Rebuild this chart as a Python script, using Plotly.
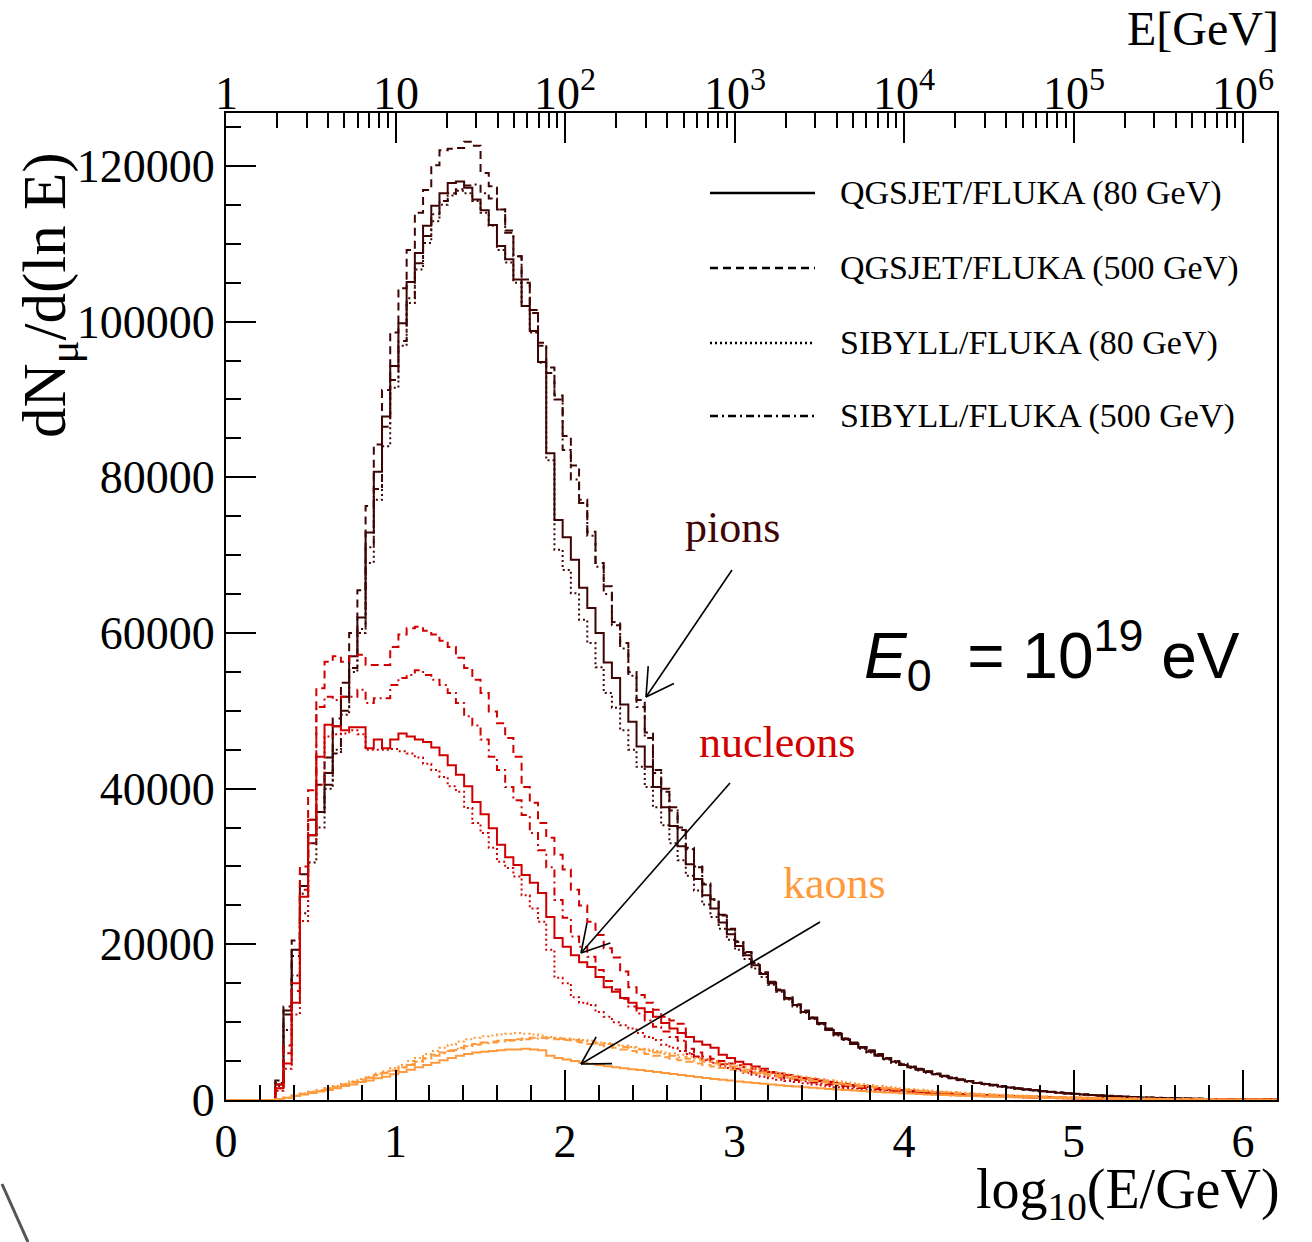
import math
import plotly.graph_objects as go

# ---------------- data (values in units of 1000 muons) ----------------
# histogram: 128 bins spanning log10(E/GeV) = 0 .. 6.2 ; arrays start at bin index FIRST_BIN
X_MAX = 6.2
Y_MAX = 126800
N_BINS = 128
FIRST_BIN = 6

pion_qgs80 = [
    2.0, 11.5, 19.3, 27.5, 34.0, 37.0, 42.0, 48.0, 51.8, 57.0,
    62.0, 72.9, 80.7, 87.8, 94.3, 99.8, 105.1, 108.8, 112.3, 114.9,
    116.5, 117.8, 118.0, 117.2, 115.7, 114.3, 112.4, 109.7, 108.0, 105.4,
    102.0, 98.8, 94.8, 83.1, 74.5, 72.3, 69.4, 65.8, 63.2, 60.0,
    56.2, 54.2, 50.8, 48.6, 45.4, 42.8, 40.2, 37.6, 35.2, 32.6,
    30.3, 28.4, 26.3, 24.6, 22.8, 21.3, 19.8, 18.6, 17.3, 16.2,
    15.0, 14.1, 13.0, 12.2, 11.3, 10.5, 9.8, 9.0, 8.4, 7.8,
    7.2, 6.7, 6.2, 5.7, 5.3, 4.9, 4.5, 4.2, 3.9, 3.6,
    3.3, 3.05, 2.8, 2.6, 2.4, 2.2, 2.05, 1.9, 1.75, 1.6,
    1.48, 1.35, 1.24, 1.13, 1.03, 0.94, 0.85, 0.77, 0.70, 0.63,
    0.57, 0.51, 0.46, 0.41, 0.37, 0.33, 0.30, 0.27, 0.24, 0.21,
    0.19, 0.17, 0.15, 0.13, 0.12, 0.10, 0.09, 0.08, 0.07, 0.06,
    0.05, 0.05]
pion_qgs500 = [
    2.5, 12.0, 20.5, 29.0, 36.0, 40.5, 44.0, 49.0, 53.6, 60.0,
    65.5, 76.3, 84.2, 91.2, 98.6, 104.3, 109.2, 114.0, 116.9, 120.1,
    122.0, 122.2, 122.3, 123.1, 122.6, 119.1, 117.4, 114.4, 111.7, 108.4,
    105.4, 101.5, 97.3, 94.1, 90.5, 85.3, 81.5, 77.1, 73.0, 69.0,
    66.0, 61.4, 58.7, 55.0, 51.4, 47.2, 42.4, 40.0, 37.6, 35.0,
    32.4, 30.0, 27.8, 25.8, 23.8, 22.0, 20.4, 19.0, 17.6, 16.4,
    15.2, 14.2, 13.2, 12.3, 11.5, 10.6, 9.9, 9.2, 8.6, 7.9,
    7.4, 6.8, 6.4, 5.9, 5.4, 5.0, 4.7, 4.3, 4.0, 3.7,
    3.4, 3.1, 2.9, 2.65, 2.45, 2.25, 2.1, 1.95, 1.8, 1.65,
    1.5, 1.38, 1.27, 1.16, 1.06, 0.97, 0.88, 0.80, 0.72, 0.65,
    0.59, 0.53, 0.48, 0.43, 0.39, 0.35, 0.31, 0.28, 0.25, 0.22,
    0.20, 0.18, 0.16, 0.14, 0.12, 0.11, 0.10, 0.09, 0.08, 0.07,
    0.06, 0.05]
pion_sib80 = [
    1.5, 9.0, 16.0, 24.0, 30.5, 35.0, 40.0, 45.0, 49.5, 55.0,
    60.0, 69.0, 77.1, 84.0, 91.5, 96.9, 102.4, 106.7, 110.1, 112.9,
    115.0, 116.2, 116.8, 116.5, 115.5, 114.0, 112.3, 109.2, 107.6, 105.0,
    102.0, 98.6, 94.7, 82.2, 70.7, 68.1, 65.1, 61.7, 58.7, 55.6,
    52.3, 50.4, 47.5, 45.0, 42.8, 40.2, 37.6, 35.3, 33.0, 30.8,
    28.8, 26.9, 25.1, 23.5, 22.0, 20.6, 19.3, 18.1, 16.9, 15.8,
    14.8, 13.9, 12.9, 12.0, 11.2, 10.4, 9.7, 9.0, 8.3, 7.7,
    7.2, 6.6, 6.1, 5.7, 5.2, 4.8, 4.5, 4.1, 3.8, 3.5,
    3.3, 3.0, 2.8, 2.55, 2.35, 2.2, 2.0, 1.85, 1.7, 1.58,
    1.45, 1.33, 1.22, 1.11, 1.02, 0.93, 0.84, 0.76, 0.69, 0.62,
    0.56, 0.50, 0.45, 0.41, 0.37, 0.33, 0.29, 0.26, 0.23, 0.21,
    0.19, 0.17, 0.15, 0.13, 0.12, 0.10, 0.09, 0.08, 0.07, 0.06,
    0.05, 0.05]
pion_sib500 = [
    2.2, 11.0, 18.5, 26.5, 33.0, 37.0, 40.5, 44.5, 50.0, 55.5,
    60.5, 71.0, 78.5, 86.5, 92.5, 97.5, 103.0, 107.5, 111.0, 113.8,
    115.5, 116.5, 117.0, 117.5, 117.6, 116.5, 115.8, 114.4, 111.4, 108.4,
    105.0, 101.1, 96.9, 93.4, 90.0, 83.5, 79.7, 76.7, 72.5, 68.5,
    65.0, 61.0, 58.0, 54.5, 50.5, 46.5, 42.0, 39.6, 37.2, 34.7,
    32.2, 29.9, 27.7, 25.7, 23.7, 21.9, 20.3, 18.9, 17.5, 16.3,
    15.1, 14.1, 13.1, 12.2, 11.4, 10.6, 9.8, 9.1, 8.5, 7.9,
    7.3, 6.8, 6.3, 5.8, 5.4, 5.0, 4.6, 4.3, 3.95, 3.65,
    3.35, 3.1, 2.85, 2.6, 2.4, 2.2, 2.05, 1.9, 1.75, 1.62,
    1.49, 1.36, 1.25, 1.14, 1.04, 0.95, 0.86, 0.78, 0.71, 0.64,
    0.58, 0.52, 0.47, 0.42, 0.38, 0.34, 0.30, 0.27, 0.24, 0.22,
    0.19, 0.17, 0.15, 0.14, 0.12, 0.11, 0.10, 0.09, 0.08, 0.07,
    0.06, 0.05]

nucl_qgs80 = [
    1.5, 4.7, 12.5, 26.1, 34.0, 44.1, 48.2, 48.0, 47.5, 47.9,
    47.9, 45.2, 46.3, 45.2, 46.3, 47.1, 46.7, 46.3, 46.0, 45.3,
    44.3, 43.0, 41.8, 40.3, 38.3, 36.7, 34.9, 32.8, 31.2, 30.2,
    28.9, 27.9, 26.6, 23.5, 20.8, 19.7, 18.6, 17.7, 17.1, 15.8,
    14.5, 13.9, 13.1, 12.5, 11.8, 11.3, 10.7, 9.9, 9.2, 8.6,
    8.1, 7.5, 7.1, 6.7, 5.8, 5.4, 4.9, 4.6, 4.3, 4.0,
    3.6, 3.4, 3.2, 3.0, 2.82, 2.65, 2.5, 2.35, 2.2, 2.05,
    1.9, 1.78, 1.66, 1.55, 1.45, 1.35, 1.25, 1.15, 1.06, 0.98,
    0.90, 0.83, 0.76, 0.70, 0.64, 0.59, 0.54, 0.50, 0.46, 0.42,
    0.39, 0.36, 0.33, 0.30, 0.28, 0.26, 0.24, 0.22, 0.20, 0.19,
    0.17, 0.16, 0.15, 0.14, 0.13, 0.12, 0.11, 0.10, 0.095, 0.09,
    0.085, 0.08, 0.075, 0.07, 0.065, 0.06, 0.055, 0.05, 0.05, 0.045,
    0.04, 0.04]
nucl_qgs500 = [
    2.0, 7.0, 15.0, 30.0, 39.8, 52.9, 56.3, 57.0, 56.3, 57.0,
    57.2, 55.9, 55.9, 55.9, 58.2, 59.8, 60.6, 60.8, 60.3, 59.8,
    59.0, 58.2, 56.8, 55.5, 54.0, 52.3, 49.9, 48.4, 46.5, 44.1,
    40.2, 38.2, 35.6, 33.7, 31.5, 29.6, 27.0, 25.0, 22.9, 21.2,
    19.5, 18.3, 16.5, 14.5, 13.5, 12.5, 11.6, 10.7, 10.2, 9.8,
    6.6, 6.1, 5.6, 5.3, 5.0, 4.7, 4.45, 4.2, 4.0, 3.75,
    3.5, 3.3, 3.1, 2.9, 2.72, 2.55, 2.4, 2.25, 2.1, 1.98,
    1.86, 1.75, 1.64, 1.54, 1.44, 1.35, 1.26, 1.18, 1.1, 1.03,
    0.96, 0.9, 0.84, 0.78, 0.73, 0.68, 0.63, 0.59, 0.55, 0.51,
    0.47, 0.44, 0.41, 0.38, 0.35, 0.32, 0.3, 0.28, 0.26, 0.24,
    0.22, 0.2, 0.19, 0.17, 0.16, 0.15, 0.14, 0.13, 0.12, 0.11,
    0.1, 0.095, 0.09, 0.085, 0.08, 0.075, 0.07, 0.065, 0.06, 0.055,
    0.05, 0.045]
nucl_sib80 = [
    1.2, 4.0, 11.0, 23.0, 33.0, 40.5, 46.7, 47.0, 47.1, 47.5,
    47.0, 45.0, 45.0, 45.0, 45.1, 44.8, 44.5, 44.0, 43.2, 42.4,
    41.5, 40.3, 39.6, 37.5, 35.6, 34.3, 32.4, 30.6, 29.8, 28.7,
    26.3, 24.6, 22.9, 19.3, 15.7, 15.0, 13.2, 12.5, 12.2, 11.3,
    10.7, 10.0, 9.6, 9.2, 8.6, 8.1, 7.7, 7.1, 6.7, 6.3,
    5.9, 5.5, 5.1, 4.8, 4.4, 4.1, 3.8, 3.5, 3.25, 3.0,
    2.8, 2.6, 2.45, 2.3, 2.15, 2.0, 1.88, 1.76, 1.65, 1.55,
    1.45, 1.36, 1.27, 1.19, 1.11, 1.04, 0.97, 0.90, 0.84, 0.78,
    0.72, 0.67, 0.62, 0.58, 0.54, 0.50, 0.46, 0.43, 0.40, 0.37,
    0.34, 0.32, 0.30, 0.28, 0.26, 0.24, 0.22, 0.20, 0.19, 0.18,
    0.17, 0.16, 0.15, 0.14, 0.13, 0.12, 0.11, 0.10, 0.095, 0.09,
    0.085, 0.08, 0.075, 0.07, 0.065, 0.06, 0.055, 0.05, 0.05, 0.045,
    0.04, 0.04]
nucl_sib500 = [
    1.8, 6.0, 14.0, 27.0, 36.0, 50.5, 51.8, 51.4, 51.8, 51.8,
    52.7, 51.0, 51.6, 51.6, 53.3, 54.2, 54.6, 55.2, 54.6, 54.0,
    53.3, 52.3, 51.0, 49.3, 48.1, 46.3, 44.1, 42.4, 40.2, 38.5,
    36.6, 34.3, 32.1, 29.9, 25.7, 23.4, 21.0, 19.7, 18.4, 16.7,
    15.3, 14.2, 13.0, 12.0, 11.1, 10.2, 9.4, 8.8, 8.1, 7.6,
    6.0, 5.6, 5.2, 4.9, 4.6, 4.3, 4.0, 3.75, 3.5, 3.3,
    3.1, 2.9, 2.72, 2.56, 2.4, 2.26, 2.12, 2.0, 1.88, 1.76,
    1.65, 1.55, 1.46, 1.37, 1.28, 1.2, 1.12, 1.05, 0.98, 0.91,
    0.85, 0.79, 0.73, 0.68, 0.63, 0.58, 0.54, 0.5, 0.46, 0.43,
    0.4, 0.37, 0.34, 0.31, 0.29, 0.27, 0.25, 0.23, 0.21, 0.19,
    0.18, 0.17, 0.16, 0.15, 0.14, 0.13, 0.12, 0.11, 0.10, 0.095,
    0.09, 0.085, 0.08, 0.075, 0.07, 0.065, 0.06, 0.055, 0.05, 0.05,
    0.045, 0.04]

kaon_qgs80 = [
    0.1, 0.3, 0.5, 0.7, 0.9, 1.1, 1.3, 1.5, 1.8, 2.0,
    2.3, 2.5, 2.8, 3.0, 3.3, 3.6, 3.9, 4.2, 4.5, 4.8,
    5.1, 5.4, 5.7, 5.9, 6.1, 6.2, 6.3, 6.4, 6.5, 6.5,
    6.6, 6.5, 6.4, 5.7, 5.4, 5.2, 5.0, 4.8, 4.65, 4.5,
    4.35, 4.2, 4.08, 3.96, 3.84, 3.72, 3.6, 3.47, 3.34, 3.21,
    3.08, 2.95, 2.83, 2.71, 2.6, 2.49, 2.38, 2.28, 2.18, 2.08,
    1.99, 1.9, 1.81, 1.73, 1.65, 1.57, 1.5, 1.42, 1.35, 1.28,
    1.21, 1.15, 1.09, 1.03, 0.97, 0.92, 0.87, 0.82, 0.77, 0.72,
    0.68, 0.64, 0.6, 0.56, 0.52, 0.49, 0.46, 0.43, 0.4, 0.37,
    0.34, 0.31, 0.29, 0.27, 0.25, 0.23, 0.21, 0.2, 0.18, 0.17,
    0.15, 0.14, 0.13, 0.12, 0.11, 0.1, 0.09, 0.085, 0.08, 0.075,
    0.07, 0.065, 0.06, 0.055, 0.05, 0.045, 0.04, 0.04, 0.035, 0.03,
    0.03, 0.025]
kaon_qgs500 = [
    0.1, 0.3, 0.55, 0.8, 1.0, 1.2, 1.45, 1.7, 2.0, 2.3,
    2.6, 2.9, 3.2, 3.5, 3.8, 4.2, 4.6, 5.0, 5.4, 5.8,
    6.1, 6.4, 6.7, 7.0, 7.2, 7.4, 7.5, 7.6, 7.7, 7.8,
    7.9, 8.0, 8.0, 7.9, 7.8, 7.7, 7.5, 7.4, 7.2, 7.1,
    6.9, 6.7, 6.5, 6.3, 6.1, 5.9, 5.7, 5.5, 5.3, 5.1,
    4.9, 4.7, 4.5, 4.3, 4.1, 3.9, 3.75, 3.6, 3.45, 3.3,
    3.15, 3.0, 2.85, 2.7, 2.56, 2.43, 2.3, 2.18, 2.06, 1.95,
    1.84, 1.74, 1.64, 1.55, 1.46, 1.38, 1.3, 1.22, 1.15, 1.08,
    1.01, 0.95, 0.89, 0.83, 0.78, 0.73, 0.68, 0.63, 0.59, 0.55,
    0.51, 0.48, 0.44, 0.41, 0.38, 0.35, 0.33, 0.3, 0.28, 0.26,
    0.24, 0.22, 0.2, 0.19, 0.17, 0.16, 0.15, 0.14, 0.13, 0.12,
    0.11, 0.1, 0.09, 0.085, 0.08, 0.07, 0.065, 0.06, 0.055, 0.05,
    0.045, 0.04]
kaon_sib80 = [
    0.1, 0.3, 0.6, 0.85, 1.1, 1.3, 1.55, 1.8, 2.1, 2.4,
    2.7, 3.0, 3.4, 3.7, 4.1, 4.5, 5.0, 5.4, 5.9, 6.3,
    6.7, 7.1, 7.5, 7.8, 8.0, 8.2, 8.3, 8.4, 8.5, 8.6,
    8.5, 8.4, 8.3, 8.1, 8.0, 7.9, 7.8, 7.7, 7.6, 7.4,
    7.3, 7.1, 7.0, 6.8, 6.6, 6.5, 6.3, 6.1, 6.0, 5.8,
    5.6, 5.4, 5.2, 5.0, 4.8, 4.6, 4.4, 4.2, 4.0, 3.8,
    3.6, 3.45, 3.3, 3.15, 3.0, 2.85, 2.7, 2.55, 2.42, 2.29,
    2.16, 2.04, 1.92, 1.81, 1.7, 1.6, 1.5, 1.41, 1.32, 1.24,
    1.16, 1.09, 1.02, 0.95, 0.89, 0.83, 0.77, 0.72, 0.67, 0.62,
    0.58, 0.54, 0.5, 0.46, 0.43, 0.4, 0.37, 0.34, 0.32, 0.29,
    0.27, 0.25, 0.23, 0.21, 0.2, 0.18, 0.17, 0.16, 0.14, 0.13,
    0.12, 0.11, 0.1, 0.09, 0.085, 0.08, 0.07, 0.065, 0.06, 0.055,
    0.05, 0.045]
kaon_sib500 = [
    0.1, 0.3, 0.5, 0.75, 0.95, 1.15, 1.4, 1.65, 1.95, 2.25,
    2.55, 2.85, 3.15, 3.45, 3.8, 4.15, 4.5, 4.9, 5.3, 5.7,
    6.0, 6.3, 6.6, 6.9, 7.1, 7.3, 7.4, 7.5, 7.6, 7.7,
    7.8, 7.9, 8.0, 8.0, 7.9, 7.8, 7.7, 7.6, 7.5, 7.3,
    7.2, 7.0, 6.8, 6.7, 6.5, 6.3, 6.1, 5.9, 5.7, 5.5,
    5.3, 5.1, 4.9, 4.7, 4.5, 4.3, 4.1, 3.9, 3.7, 3.5,
    3.35, 3.2, 3.05, 2.9, 2.75, 2.6, 2.46, 2.33, 2.2, 2.08,
    1.96, 1.85, 1.74, 1.64, 1.54, 1.45, 1.36, 1.28, 1.2, 1.13,
    1.06, 0.99, 0.93, 0.87, 0.81, 0.76, 0.71, 0.66, 0.62, 0.58,
    0.54, 0.5, 0.46, 0.43, 0.4, 0.37, 0.34, 0.32, 0.29, 0.27,
    0.25, 0.23, 0.21, 0.2, 0.18, 0.17, 0.15, 0.14, 0.13, 0.12,
    0.11, 0.1, 0.095, 0.09, 0.08, 0.075, 0.07, 0.065, 0.06, 0.055,
    0.05, 0.045]

model_labels = ["QGSJET/FLUKA (80 GeV)", "QGSJET/FLUKA (500 GeV)",
                "SIBYLL/FLUKA (80 GeV)", "SIBYLL/FLUKA (500 GeV)"]
y_ticks = [0, 20000, 40000, 60000, 80000, 100000, 120000]
x_ticks = [0, 1, 2, 3, 4, 5, 6]
top_tick_exp = [0, 1, 2, 3, 4, 5, 6]
top_tick_text = ["1", "10", "10<sup>2</sup>", "10<sup>3</sup>", "10<sup>4</sup>",
                 "10<sup>5</sup>", "10<sup>6</sup>"]

# ---------------- styles ----------------
W, H = 1312, 1242
ML, MR, MT, MB = 226, 35, 113, 142
PW, PH = W - ML - MR, H - MT - MB
SERIF = "Liberation Serif"
SANS = "Liberation Sans"
C_PION = "#3f0505"
C_NUCL = "#d10000"
C_KAON = "#ff9a3c"
DASHES = ["solid", "8px,5px", "2px,3px", "8px,4px,2px,4px"]


def px_x(p):
    return (p - ML) / PW


def px_y(p):
    return (H - MB - p) / PH


def px_to_data(px, py):
    return (px - ML) / PW * X_MAX, (H - MB - py) / PH * Y_MAX


def step_xy(vals):
    w = X_MAX / N_BINS
    n = N_BINS - FIRST_BIN
    v = [float(a) * 1000 for a in vals][:n]
    while len(v) < n:
        v.append(v[-1] if v else 0.0)
    full = [0.0] * FIRST_BIN + v
    xs = [k * w for k in range(N_BINS + 1)]
    ys = full + [full[-1]]
    return xs, ys


fig = go.Figure()
groups = [
    (C_PION, [pion_qgs80, pion_qgs500, pion_sib80, pion_sib500]),
    (C_NUCL, [nucl_qgs80, nucl_qgs500, nucl_sib80, nucl_sib500]),
    (C_KAON, [kaon_qgs80, kaon_qgs500, kaon_sib80, kaon_sib500]),
]
for color, series in groups:
    for i, vals in enumerate(series):
        xs, ys = step_xy(vals)
        fig.add_trace(go.Scatter(x=xs, y=ys, mode="lines", line_shape="hv",
                                 line=dict(color=color, width=2, dash=DASHES[i]),
                                 showlegend=False, hoverinfo="skip"))

# invisible trace to activate the top energy axis
fig.add_trace(go.Scatter(x=[1, 1e6], y=[0, 0], xaxis="x2", mode="lines",
                         line=dict(width=0, color="rgba(0,0,0,0)"),
                         showlegend=False, hoverinfo="skip"))

minor_top = [m * 10 ** d for d in range(7) for m in range(2, 10) if m * 10 ** d <= 10 ** X_MAX]

axis_common = dict(showgrid=False, zeroline=False, showline=True, linecolor="black",
                   linewidth=2, ticks="inside", ticklen=30, tickwidth=2, tickcolor="black",
                   automargin=False)

fig.update_layout(
    width=W, height=H, margin=dict(l=ML, r=MR, t=MT, b=MB),
    paper_bgcolor="white", plot_bgcolor="white", showlegend=False,
    xaxis=dict(range=[0, X_MAX], tickmode="array", tickvals=x_ticks,
               ticktext=[str(t) for t in x_ticks],
               tickfont=dict(family=SERIF, size=46, color="black"),
               minor=dict(ticks="inside", ticklen=15, tickwidth=2, tickcolor="black",
                          dtick=0.2, tick0=0),
               **axis_common),
    xaxis2=dict(type="log", range=[0, X_MAX], overlaying="x", side="top", anchor="y",
                tickmode="array", tickvals=[10 ** e for e in top_tick_exp],
                showticklabels=False,
                minor=dict(ticks="inside", ticklen=15, tickwidth=2, tickcolor="black",
                           tickmode="array", tickvals=minor_top),
                **axis_common),
    yaxis=dict(range=[0, Y_MAX], tickmode="array", tickvals=y_ticks,
               ticktext=[str(t) for t in y_ticks], mirror=True,
               tickfont=dict(family=SERIF, size=46, color="black"),
               minor=dict(ticks="inside", ticklen=15, tickwidth=2, tickcolor="black",
                          dtick=5000, tick0=0),
               **axis_common),
)

annotations = []
shapes = []

# top-axis tick labels (energy in GeV)
for e, t in zip(top_tick_exp, top_tick_text):
    annotations.append(dict(xref="x", yref="paper", x=e, y=px_y(121), xanchor="center",
                            yanchor="bottom", showarrow=False, text=t,
                            font=dict(family=SERIF, size=46, color="black")))

# axis titles
annotations.append(dict(xref="paper", yref="paper", x=1.0, y=px_y(1156), xanchor="right",
                        yanchor="top", showarrow=False, text="log<sub>10</sub>(E/GeV)",
                        xshift=5, font=dict(family=SERIF, size=56, color="black")))
annotations.append(dict(xref="paper", yref="paper", x=px_x(49), y=px_y(150), xanchor="center",
                        yanchor="top", showarrow=False, textangle=-90,
                        text="dN<sub>μ</sub>/d(ln E)",
                        font=dict(family=SERIF, size=61, color="black")))
annotations.append(dict(xref="paper", yref="paper", x=1.0, y=px_y(0), xanchor="right",
                        yanchor="top", showarrow=False, text="E[GeV]", xshift=4,
                        font=dict(family=SERIF, size=48, color="black")))

# legend (drawn manually)
legend_rows = [193, 268, 343, 416]
for i, lab in enumerate(model_labels):
    yy = px_y(legend_rows[i])
    shapes.append(dict(type="line", xref="paper", yref="paper", x0=px_x(710), x1=px_x(815),
                       y0=yy, y1=yy, line=dict(color="black", width=2.5, dash=DASHES[i])))
    annotations.append(dict(xref="paper", yref="paper", x=px_x(838), y=yy, xanchor="left",
                            yanchor="middle", showarrow=False, text=lab,
                            font=dict(family=SERIF, size=34, color="black")))

# particle labels
annotations += [
    dict(x=2.985, y=73500, xref="x", yref="y", text="pions", showarrow=False,
         font=dict(family=SERIF, size=44, color=C_PION)),
    dict(x=3.25, y=45900, xref="x", yref="y", text="nucleons", showarrow=False,
         font=dict(family=SERIF, size=44, color=C_NUCL)),
    dict(x=3.587, y=27800, xref="x", yref="y", text="kaons", showarrow=False,
         font=dict(family=SERIF, size=44, color=C_KAON)),
]

# arrows (tip, tail) given in picture pixels, drawn as open arrows
arrows_px = [((646, 697), (732, 570)),
             ((581, 953), (730, 783)),
             ((581, 1064), (820, 922))]
HEAD_LEN, HEAD_ANG = 31, math.radians(30)
for (tx, ty), (sx, sy) in arrows_px:
    x0, y0 = px_to_data(tx, ty)
    x1, y1 = px_to_data(sx, sy)
    shapes.append(dict(type="line", xref="x", yref="y", x0=x0, y0=y0, x1=x1, y1=y1,
                       line=dict(color="black", width=1.6)))
    ang = math.atan2(sy - ty, sx - tx)
    for s in (-1, 1):
        hx = tx + HEAD_LEN * math.cos(ang + s * HEAD_ANG)
        hy = ty + HEAD_LEN * math.sin(ang + s * HEAD_ANG)
        hx_d, hy_d = px_to_data(hx, hy)
        shapes.append(dict(type="line", xref="x", yref="y", x0=x0, y0=y0, x1=hx_d, y1=hy_d,
                           line=dict(color="black", width=1.6)))

# primary energy label
annotations.append(dict(xref="paper", yref="paper", x=px_x(862), y=px_y(655), xanchor="left",
                        yanchor="middle", showarrow=False,
                        text="<i>E</i><sub>0</sub>&nbsp; = 10<sup>19</sup> eV",
                        font=dict(family=SANS, size=64, color="black")))

# small page artefact at bottom-left
shapes.append(dict(type="line", xref="paper", yref="paper", x0=px_x(2), y0=px_y(1184),
                   x1=px_x(28), y1=px_y(1242), line=dict(color="#555555", width=3)))

fig.update_layout(annotations=annotations, shapes=shapes)
fig.write_html("out.html")
